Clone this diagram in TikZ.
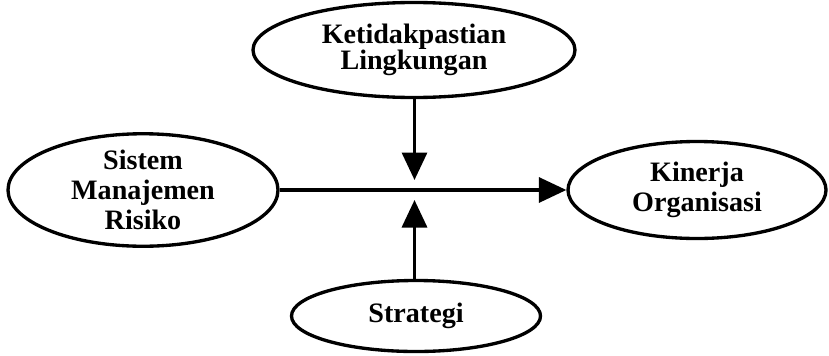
\documentclass[tikz,border=0pt]{standalone}
\usepackage{fontspec}
\setmainfont{Liberation Serif}
\usepackage{tikz}
\usetikzlibrary{shapes.geometric, arrows.meta}
\tikzstyle{construct} = [
    ellipse, draw, text centered, align=center,
    line width=1.9pt,
    inner sep=0pt,
    font=\bfseries\fontsize{16}{17}\selectfont,
]
\tikzstyle{arrow} = [-{Triangle[length=0.55cm,width=0.5cm]}, line width=1.9pt]

\begin{document}
\begin{tikzpicture}
    \useasboundingbox (0,0) rectangle (16.58,-7.1);
    % ellipses
    \node (risk) at (2.86, -3.8) [construct, minimum width=5.4cm, minimum height=1.9cm] {Sistem\\Manajemen\\Risiko};
    \node (perf) at (13.94, -3.8) [construct, minimum width=5.16cm, minimum height=1.94cm] {Kinerja\\Organisasi};
    \node (env) at (8.28, -1.0) [construct, minimum width=6.44cm, minimum height=1.9cm,
        font=\bfseries\fontsize{16}{15}\selectfont] {Ketidakpastian\\Lingkungan};
    \node (strat) at (8.32, -6.32) [construct, minimum width=4.98cm, minimum height=1.42cm] {Strategi};
    \coordinate (envtip) at (8.29, -3.6);
    \coordinate (strattip) at (8.29, -4.0);

    % arrows
    \draw [arrow] (risk.east) to (perf.west);
    \draw [arrow] (envtip |- env.south) to (envtip);
    \draw [arrow] (strattip |- strat.north) to (strattip);

\end{tikzpicture}
\end{document}
